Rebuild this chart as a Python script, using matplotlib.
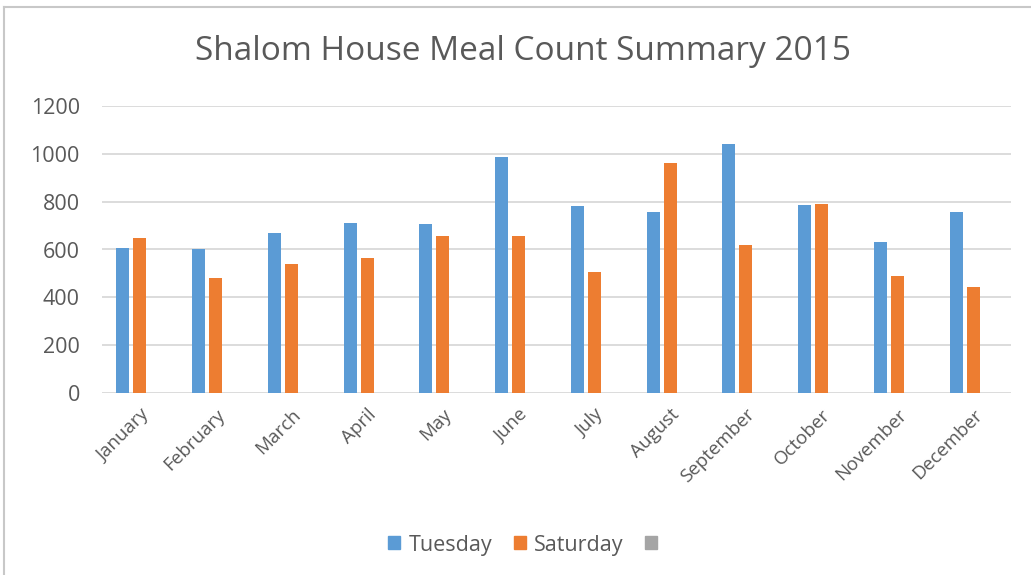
import matplotlib
matplotlib.use("Agg")
import matplotlib.pyplot as plt
import numpy as np
from matplotlib.patches import Rectangle
from matplotlib.lines import Line2D

months = ["January", "February", "March", "April", "May", "June", "July",
          "August", "September", "October", "November", "December"]
tuesday = [605, 600, 670, 710, 705, 988, 780, 757, 1041, 785, 630, 757]
saturday = [650, 480, 540, 565, 655, 655, 504, 962, 619, 790, 488, 444]
third = [0] * 12
series_names = ["Tuesday", "Saturday", ""]
colors = ["#5B9BD5", "#ED7D31", "#A5A5A5"]
yticks = [0, 200, 400, 600, 800, 1000, 1200]
title = "Shalom House Meal Count Summary 2015"

plt.rcParams['font.family'] = ['Open Sans', 'DejaVu Sans']
txt = "#595959"

fig = plt.figure(figsize=(10.31, 5.75), dpi=100)
fig.patch.set_facecolor("white")
ax = fig.add_axes([102/1031, 1-393/575, (1011-102)/1031, (393-106)/575])

x = np.arange(len(months))
w = 13/75.75
step = 17/75.75
for i, (vals, c) in enumerate(zip([tuesday, saturday, third], colors)):
    ax.bar(x + (i-1)*step, vals, width=w, color=c, zorder=3)

ax.set_xlim(-0.5, len(months)-0.5)
ax.set_ylim(0, 1200)
ax.set_yticks(yticks)
ax.set_yticklabels([str(v) for v in yticks], fontsize=15.5, color=txt)
ax.set_xticks(x)
ax.set_xticklabels(months, rotation=45, ha='right', va='top', rotation_mode='anchor',
                   fontsize=13.5, color=txt)
ax.tick_params(axis='both', length=0)
ax.tick_params(axis='y', pad=16)
ax.tick_params(axis='x', pad=9)
for s in ax.spines.values():
    s.set_visible(False)
ax.grid(axis='y', color="#D9D9D9", linewidth=1.3, zorder=0)
ax.set_axisbelow(True)

fig.text(523/1031, 1-52/575, title, ha='center', va='center', fontsize=24, color=txt)

handles = [Rectangle((0, 0), 1, 1, color=c) for c in colors]
fig.legend(handles, series_names, loc='center', bbox_to_anchor=(527/1031, 1-545/575),
           ncol=3, frameon=False, fontsize=15.5, labelcolor=txt,
           handlelength=0.55, handleheight=0.55, handletextpad=0.4, columnspacing=1.0)

# chart frame
fig.add_artist(Line2D([4/1031, 4/1031], [0, 1-7/575], color="#C8C8C8", linewidth=1.5,
                      transform=fig.transFigure))
fig.add_artist(Line2D([4/1031, 1], [1-7/575, 1-7/575], color="#C8C8C8", linewidth=1.5,
                      transform=fig.transFigure))

fig.savefig("out.png", dpi=100)
